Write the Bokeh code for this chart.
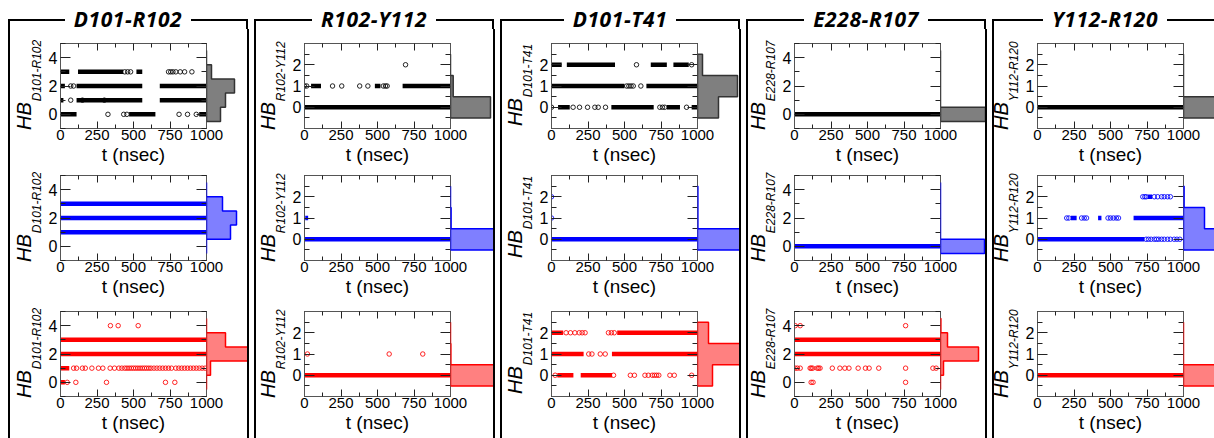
import math
from bokeh.plotting import figure
from bokeh.layouts import row, column
from bokeh.models import Range1d, LinearAxis, FixedTicker, Div, Spacer
from bokeh.embed import file_html
from bokeh.resources import INLINE

# ---------------------------------------------------------------- data
pairs = ["D101-R102", "R102-Y112", "D101-T41", "E228-R107", "Y112-R120"]
y_upper = [5, 3, 3, 5, 3]
x_ticks = [0, 250, 500, 750, 1000]
x_minor = [125, 375, 625, 875]
x_label = "t (nsec)"

# dense stretches: (HB count, t start, t end) for the three rows (black, blue, red)
d101_r102_runs = [
    [(3, 0, 60), (3, 120, 430), (3, 520, 560), (2, 0, 30), (2, 110, 560), (2, 680, 1000),
     (1, 0, 20), (1, 110, 560), (1, 680, 1000), (0, 0, 110), (0, 470, 650), (0, 950, 1000)],
    [(3, 0, 1000), (2, 0, 1000), (1, 0, 1000)],
    [(3, 0, 1000), (2, 0, 1000), (1, 0, 60), (0, 0, 30)],
]
d101_r102_points = [
    {3: [440, 460, 480, 740, 755, 770, 790, 820, 850, 900], 2: [70, 90], 1: [70, 150, 300],
     0: [325, 433, 455, 812, 870, 930]},
    {},
    {4: [342, 395, 532], 0: [46, 105, 315, 719, 783],
     1: [90, 110, 150, 170, 215, 260, 290, 340, 370, 400, 420, 440, 455, 470, 485, 500, 515, 530,
         545, 560, 575, 590, 605, 620, 640, 660, 680, 700, 720, 740, 760, 790, 810, 830, 850, 870,
         890, 910, 930, 950, 970, 990]},
]
d101_r102_hist = [[14, 19, 28, 5, 0], [0, 24, 30, 16, 0], [0, 4, 42, 19, 0]]

r102_y112_runs = [
    [(0, 0, 1000), (1, 45, 113), (1, 482, 520), (1, 672, 1000)],
    [(0, 0, 1000), (1, 5, 25)],
    [(0, 0, 1000)],
]
r102_y112_points = [
    {1: [0, 15, 192, 255, 378, 434, 540, 555, 566], 2: [692]},
    {},
    {1: [20, 580, 810]},
]
r102_y112_hist = [[40, 2.7, 0], [45, 0.6, 0], [45, 0.4, 0]]

d101_t41_runs = [
    [(2, 0, 70), (2, 105, 435), (2, 680, 790), (2, 835, 940), (1, 0, 500), (1, 650, 1000),
     (0, 45, 125), (0, 410, 700), (0, 790, 880), (0, 960, 1000)],
    [(0, 0, 1000)],
    [(2, 0, 80), (2, 450, 1000), (1, 0, 220), (1, 414, 1000), (0, 40, 150), (0, 200, 415)],
]
d101_t41_points = [
    {2: [582, 960], 1: [515, 530, 545, 560, 612],
     0: [0, 148, 192, 247, 297, 320, 370, 742, 760, 776, 925]},
    {1: [0], 2: [0]},
    {2: [100, 130, 160, 190, 210, 230, 390, 410, 430], 1: [255, 277, 334, 368],
     0: [25, 425, 540, 568, 640, 663, 690, 705, 720, 735, 811, 841, 960]},
]
d101_t41_hist = [[21, 40, 5], [46, 0.4, 0.4], [15, 44, 11]]

e228_r107_runs = [
    [(0, 0, 1000)],
    [(0, 0, 1000)],
    [(3, 0, 1000), (2, 0, 1000)],
]
e228_r107_points = [
    {},
    {},
    {1: [5, 20, 39, 107, 115, 125, 155, 165, 175, 259, 311, 345, 373, 436, 486, 511, 577, 761,
         948, 970],
     4: [5, 39, 761], 0: [114, 127, 761]},
]
e228_r107_hist = [[45, 0, 0, 0, 0], [44, 0, 0, 0, 0], [0, 3, 38, 7, 0.4]]

y112_r120_runs = [
    [(0, 0, 1000)],
    [(0, 0, 732), (1, 229, 268), (1, 415, 438), (1, 658, 1000), (2, 755, 785)],
    [(0, 0, 1000)],
]
y112_r120_points = [
    {},
    {0: [744, 760, 778, 800, 815, 830, 850, 868, 891, 910, 936, 955, 975],
     1: [200, 215, 302, 320, 336, 483, 500, 520, 540, 555],
     2: [721, 735, 745, 800, 823, 850, 868, 891, 910]},
    {},
]
y112_r120_hist = [[50, 0, 0], [43, 21, 0.6], [50, 0, 0]]

all_runs = [d101_r102_runs, r102_y112_runs, d101_t41_runs, e228_r107_runs, y112_r120_runs]
all_points = [d101_r102_points, r102_y112_points, d101_t41_points, e228_r107_points, y112_r120_points]
all_hist = [d101_r102_hist, r102_y112_hist, d101_t41_hist, e228_r107_hist, y112_r120_hist]

# ---------------------------------------------------------------- style
MARK = ["#000000", "#0000ff", "#ff0000"]
HFILL = ["#7f7f7f", "#7f7fff", "#ff8080"]
HLINE = ["#333333", "#0000ff", "#ff0000"]
FRAME = "#555555"
TICK = "#222222"
AX_FONT = "Liberation Sans"
FW, FH = 146, 85
LEFT = [49, 47, 48, 45, 42]          # space between box line and frame
INNER = 236                          # box inner width
LAST_INNER = 1214 - (8 + 4 * 245) - 2
TOPS = [14, 8, 12]
BOT = 39
RB = 22                              # room right of frame for the "1000" label
TITLE_H = 29
CW = {"H": .722, "B": .667, "D": .722, "R": .722, "Y": .667, "T": .611, "E": .667, "-": .333}


def tw(s, size):
    return sum(CW.get(c, .556) for c in s) * size


def style_axis(ax, mi, mn, hide=False):
    ax.axis_line_color = FRAME
    ax.major_tick_line_color = TICK
    ax.minor_tick_line_color = TICK
    ax.major_tick_in = mi
    ax.major_tick_out = 0
    ax.minor_tick_in = mn
    ax.minor_tick_out = 0
    ax.major_label_text_font = AX_FONT
    ax.major_label_text_color = "#000000"
    if hide:
        ax.major_label_text_color = None
        ax.major_label_text_font_size = "0px"
        ax.major_label_standoff = 0


def ylabel_div(name, width, height, frame_left, T):
    s1, s2 = 20, 12
    total = tw("HB", s1) + tw(name, s2)
    x0 = frame_left - 28 - 17
    y0 = T + FH / 2.0 + total / 2.0
    html = (
        f'<div style="position:relative;width:{width}px;height:{height}px;">'
        f'<div style="position:absolute;left:{x0:.1f}px;top:{y0:.1f}px;transform:rotate(-90deg);'
        f'transform-origin:0 0;white-space:nowrap;height:20px;line-height:20px;font-size:20px;'
        f'font-family:\'Liberation Sans\',Arial;font-style:italic;color:#000;">'
        f'<span style="font-size:20px;">HB</span>'
        f'<span style="font-size:12px;position:relative;top:9.5px;margin-left:1px;">{name}</span>'
        f'</div></div>'
    )
    return Div(text=html, width=width, height=height, margin=0)


def panel(ci, ri):
    yhi = y_upper[ci]
    ylo = -1
    if yhi == 5:
        yt, ym = [0, 2, 4], [-1, 1, 3, 5]
    else:
        yt, ym = [0, 1, 2], [-0.5, 0.5, 1.5, 2.5]
    yr = Range1d(ylo, yhi)
    L = LEFT[ci]
    inner = INNER if ci < 4 else LAST_INNER
    hw = inner - L - FW
    T = TOPS[ri]
    LD = L - 14
    p = figure(frame_width=FW, frame_height=FH, x_range=Range1d(0, 1000), y_range=yr,
               output_backend="svg", toolbar_location=None, min_border_left=14,
               min_border_right=RB, min_border_top=T, min_border_bottom=BOT, align="start")
    p.xgrid.visible = False
    p.ygrid.visible = False
    p.outline_line_color = FRAME
    p.background_fill_color = "white"
    p.border_fill_color = "white"

    xa = p.xaxis[0]
    xa.ticker = FixedTicker(ticks=x_ticks, minor_ticks=x_minor)
    style_axis(xa, 7, 4)
    xa.major_label_text_font_size = "15px"
    xa.major_label_standoff = 1
    xa.axis_label = x_label
    xa.axis_label_text_font = AX_FONT
    xa.axis_label_text_font_size = "19px"
    xa.axis_label_text_font_style = "normal"
    xa.axis_label_text_color = "#000000"
    xa.axis_label_standoff = 1

    ya = p.yaxis[0]
    ya.ticker = FixedTicker(ticks=yt, minor_ticks=ym)
    style_axis(ya, 10, 5)
    ya.major_label_text_font_size = "16px"
    ya.major_label_standoff = 3

    top = LinearAxis(ticker=FixedTicker(ticks=x_ticks, minor_ticks=x_minor))
    style_axis(top, 7, 4, hide=True)
    p.add_layout(top, "above")
    right = LinearAxis(ticker=FixedTicker(ticks=yt, minor_ticks=ym))
    style_axis(right, 10, 5, hide=True)
    p.add_layout(right, "right")

    col = MARK[ri]
    runs = all_runs[ci][ri]
    if runs:
        p.segment(x0=[r[1] for r in runs], y0=[r[0] for r in runs],
                  x1=[r[2] for r in runs], y1=[r[0] for r in runs],
                  line_color=col, line_width=4.5)
    pts = all_points[ci][ri]
    xs, ys = [], []
    for lev, ts in pts.items():
        xs += ts
        ys += [lev] * len(ts)
    if xs:
        p.scatter(xs, ys, marker="circle", size=4.5, fill_color=None, line_color=col,
                  line_width=1, line_alpha=0.85)

    # side histogram (transparent canvas laid over the room right of the frame)
    h = figure(frame_width=hw, frame_height=FH, x_range=Range1d(0, hw), y_range=yr,
               output_backend="svg", toolbar_location=None, x_axis_location=None,
               y_axis_location=None, min_border_left=0, min_border_right=0,
               min_border_top=T, min_border_bottom=BOT, align="start",
               margin=(0, 0, 0, -RB))
    h.grid.visible = False
    h.outline_line_color = None
    h.background_fill_color = None
    h.border_fill_color = None
    htop = LinearAxis(ticker=FixedTicker(ticks=x_ticks, minor_ticks=x_minor))
    style_axis(htop, 7, 4, hide=True)
    htop.axis_line_color = None
    htop.major_tick_line_color = None
    htop.minor_tick_line_color = None
    h.add_layout(htop, "above")
    vals = all_hist[ci][ri]
    px, py = [0.0], [-0.5]
    for k, v in enumerate(vals):
        px += [v, v]
        py += [k - 0.5, k + 0.5]
    px.append(0.0)
    py.append(len(vals) - 0.5)
    h.patch(px, py, fill_color=HFILL[ri], fill_alpha=1.0, line_color=HLINE[ri], line_width=1.5)

    fig_h = T + FH + BOT
    lab = ylabel_div(pairs[ci], LD, fig_h, L, T)
    return row(lab, p, h, spacing=0, align="start")


def title_div(name, w, right_border=True):
    rb = "border-right:2px solid #000;" if right_border else ""
    html = (
        f'<div style="position:relative;width:{w}px;height:{TITLE_H}px;">'
        f'<div style="position:absolute;left:0;top:19px;width:{w}px;height:{TITLE_H - 19}px;'
        f'box-sizing:border-box;border-top:2px solid #000;border-left:2px solid #000;{rb}"></div>'
        f'<div style="position:absolute;left:0;top:5px;width:{w}px;height:28px;text-align:center;'
        f'line-height:28px;"><span style="background:#fff;padding:0 9px;font-family:\'Open Sans\';'
        f'font-weight:bold;font-style:italic;font-size:21px;letter-spacing:0.6px;color:#000;">'
        f'{name}</span></div></div>'
    )
    return Div(text=html, width=w, height=TITLE_H, margin=0)


def vline(hgt):
    return Div(text=f'<div style="width:2px;height:{hgt}px;background:#000;"></div>',
               width=2, height=hgt, margin=0)


VH = 438 - TITLE_H
cols = [Spacer(width=8, height=10)]
for ci, name in enumerate(pairs):
    rows = [panel(ci, ri) for ri in range(3)]
    last = ci == 4
    body_parts = [vline(VH), column(*rows, spacing=0)]
    if not last:
        body_parts.append(vline(VH))
        w = INNER + 4
    else:
        w = LAST_INNER + 2
    cols.append(column(title_div(name, w, right_border=not last), row(*body_parts, spacing=0),
                       spacing=0))
    if not last:
        cols.append(Spacer(width=5, height=10))

layout = row(*cols, spacing=0)
open("out.html", "w").write(file_html(layout, INLINE))
